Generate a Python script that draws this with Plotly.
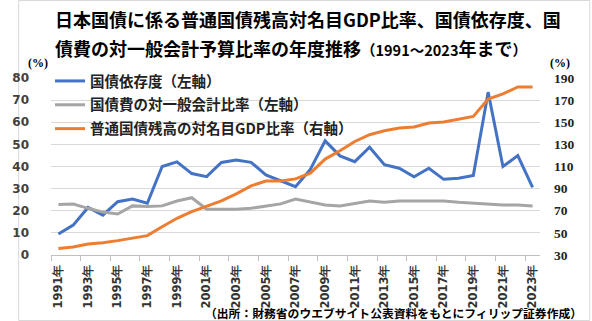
import plotly.graph_objects as go

years = ["1991年","1992年","1993年","1994年","1995年","1996年","1997年","1998年","1999年","2000年",
         "2001年","2002年","2003年","2004年","2005年","2006年","2007年","2008年","2009年","2010年",
         "2011年","2012年","2013年","2014年","2015年","2016年","2017年","2018年","2019年","2020年",
         "2021年","2022年","2023年"]

dependency = [9.5, 13.5, 21.5, 18.0, 24.1, 25.3, 23.4, 40.0, 42.1, 36.8,
              35.4, 41.8, 42.9, 41.9, 36.2, 33.5, 30.9, 38.7, 51.6, 44.8,
              42.2, 48.7, 40.8, 39.2, 35.4, 39.2, 34.2, 34.7, 35.9, 73.6,
              40.0, 44.9, 30.6]

debt_service = [22.8, 23.0, 21.1, 19.4, 18.5, 22.2, 21.9, 22.2, 24.4, 25.9,
                20.7, 20.7, 20.7, 21.1, 22.2, 23.1, 25.3, 24.1, 22.6, 22.2,
                23.4, 24.4, 23.8, 24.4, 24.4, 24.5, 24.4, 23.8, 23.4, 22.9,
                22.6, 22.6, 22.2]

debt_gdp = [35.8, 37.2, 40.0, 41.1, 43.0, 45.3, 47.5, 55.6, 63.2, 69.2,
            73.8, 79.0, 85.3, 92.5, 96.8, 97.0, 98.8, 104.0, 116.7, 124.2,
            132.6, 138.7, 142.3, 144.8, 145.7, 149.3, 150.2, 152.9, 155.3, 171.0,
            175.6, 181.9, 181.9]

names = ["国債依存度（左軸）", "国債費の対一般会計比率（左軸）", "普通国債残高の対名目GDP比率（右軸）"]

W, H = 592, 321
ML, MR, MT, MB = 34, 52, 78, 66
PW, PH = W - ML - MR, H - MT - MB

def px(x):
    return (x - ML) / PW

def py(y):
    return (H - MB - y) / PH

fig = go.Figure()
fig.add_trace(go.Scatter(x=years, y=dependency, name=names[0], mode="lines", legendgroup="a",
                         line=dict(color="#4472C4", width=3)))
fig.add_trace(go.Scatter(x=years, y=debt_service, name=names[1], mode="lines", legendgroup="b",
                         line=dict(color="#A5A5A5", width=3)))
fig.add_trace(go.Scatter(x=years, y=debt_gdp, name=names[2], mode="lines", legendgroup="c",
                         line=dict(color="#ED7D31", width=3), yaxis="y2"))

fig.update_layout(
    width=W, height=H,
    margin=dict(l=ML, r=MR, t=MT, b=MB, pad=0),
    paper_bgcolor="white", plot_bgcolor="white",
    font=dict(family="Noto Sans CJK JP"),
    showlegend=True,
    legend=dict(x=px(33), y=py(65), xanchor="left", yanchor="top",
                bgcolor="rgba(0,0,0,0)",
                font=dict(family="Noto Sans CJK JP", size=14.5, color="#222", weight="bold"),
                tracegroupgap=2, itemwidth=30),
    xaxis=dict(type="category", range=[-0.5, 32.5], dtick=2, tickson="boundaries",
               ticks="outside", ticklen=5, tickcolor="#bfbfbf",
               showline=True, linecolor="#bfbfbf", linewidth=1,
               showgrid=False, tickangle=-90, ticklabelstandoff=4,
               tickfont=dict(family="DejaVu Sans", size=11.5, color="#333", weight="bold")),
    yaxis=dict(range=[0, 80], dtick=10, showgrid=True, gridcolor="#d9d9d9", gridwidth=1,
               zeroline=False, showline=False, ticks="", ticklabelstandoff=21,
               tickfont=dict(family="DejaVu Sans", size=12, color="#404040", weight="bold")),
    yaxis2=dict(range=[30, 190], tick0=30, dtick=20, overlaying="y", side="right",
                showgrid=False, zeroline=False, showline=False, ticks="", ticklabelstandoff=13,
                tickfont=dict(family="Liberation Serif", size=13.5, color="#222", weight="bold")),
)

title_font = dict(family="Noto Sans CJK JP", size=18, color="black", weight="bold")
small = '<span style="font-size:14.5px">'
fig.add_annotation(text="日本国債に係る普通国債残高対名目GDP比率、国債依存度、国",
                   xref="paper", yref="paper", x=px(36), y=py(19), xanchor="left", yanchor="middle",
                   showarrow=False, font=title_font)
fig.add_annotation(text="債費の対一般会計予算比率の年度推移" + small + "（1991～2023</span>年まで" + small + "）</span>",
                   xref="paper", yref="paper", x=px(36), y=py(48), xanchor="left", yanchor="middle",
                   showarrow=False, font=title_font)
fig.add_annotation(text="(%)", xref="paper", yref="paper", x=px(21), y=py(63),
                   xanchor="center", yanchor="middle", showarrow=False,
                   font=dict(family="Liberation Serif", size=12, color="black", weight="bold"))
fig.add_annotation(text="(%)", xref="paper", yref="paper", x=px(561), y=py(63),
                   xanchor="center", yanchor="middle", showarrow=False,
                   font=dict(family="Liberation Serif", size=12, color="black", weight="bold"))
fig.add_annotation(text="（出所：財務省のウエブサイト公表資料をもとにフィリップ証券作成）",
                   xref="paper", yref="paper", x=px(586), y=py(312),
                   xanchor="right", yanchor="middle", showarrow=False,
                   font=dict(family="Noto Sans CJK JP", size=11.8, color="black", weight="bold"))

fig.add_shape(type="rect", xref="paper", yref="paper",
              x0=px(0.5), x1=px(W - 0.5), y0=py(0.5), y1=py(H - 0.5),
              line=dict(color="#d9d9d9", width=1), fillcolor="rgba(0,0,0,0)", layer="below")

fig.write_html("out.html")
